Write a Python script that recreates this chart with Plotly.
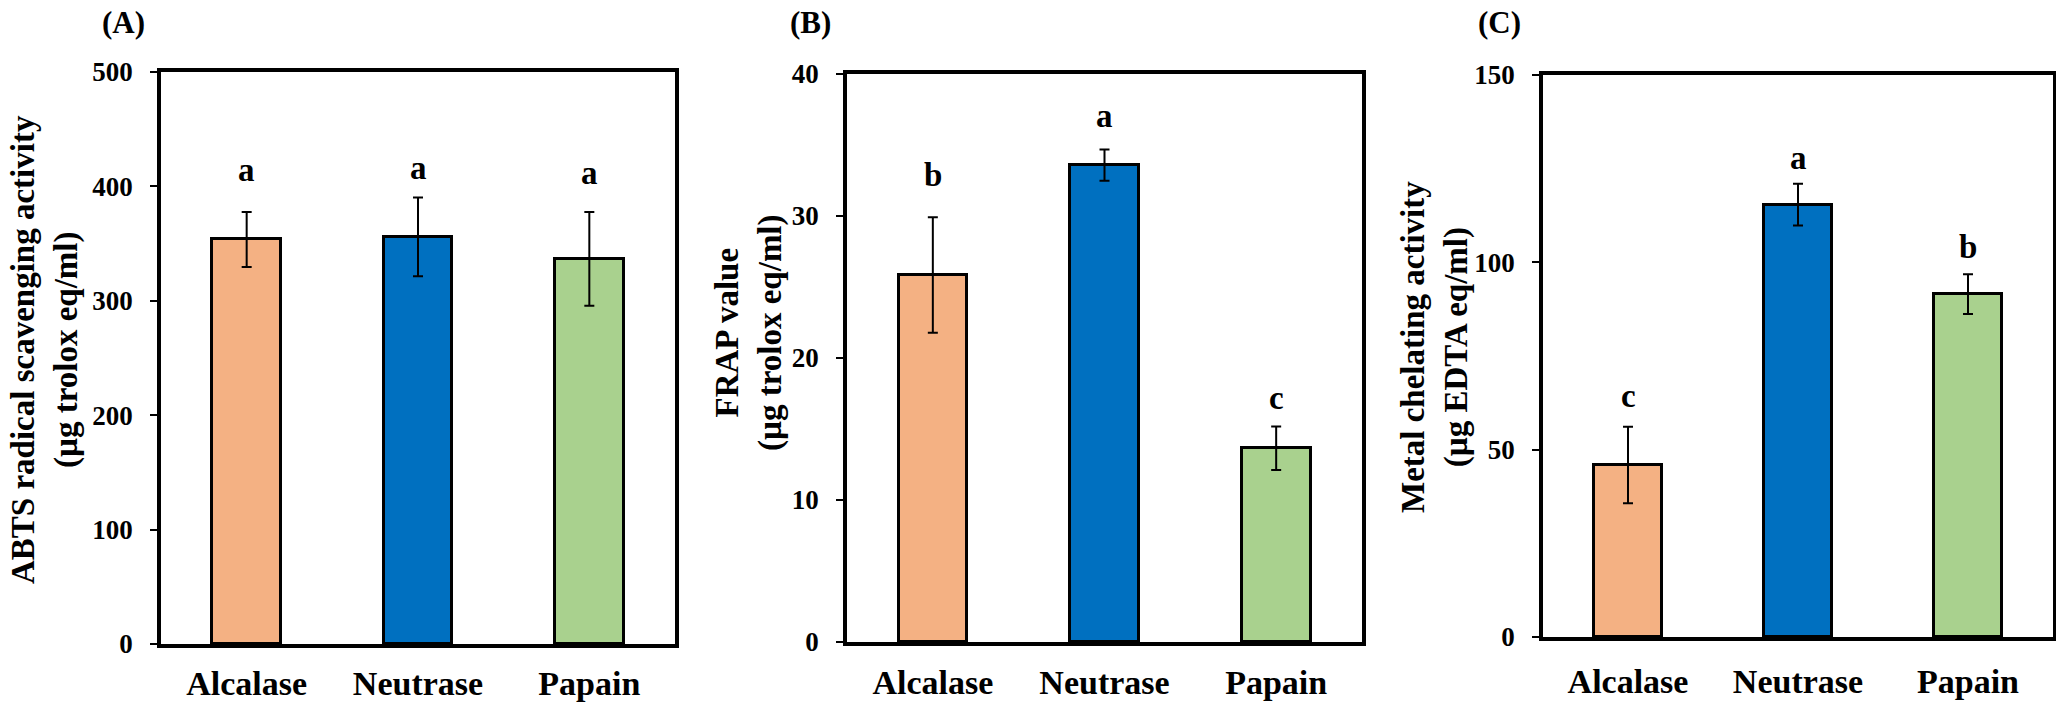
import plotly.graph_objects as go

# ---------------- data ----------------
enzymes = ["Alcalase", "Neutrase", "Papain"]
bar_colors = ["#F4B183", "#0070C0", "#A9D18E"]

abts_mean = [353.6, 355.9, 336.7]
abts_sd = [24.0, 34.5, 41.0]
abts_sig = ["a", "a", "a"]
abts_sig_y = [404.6, 406.7, 402.3]

frap_mean = [25.85, 33.58, 13.64]
frap_sd = [4.07, 1.10, 1.53]
frap_sig = ["b", "a", "c"]
frap_sig_y = [32.1, 36.3, 16.4]

metal_mean = [45.9, 115.4, 91.5]
metal_sd = [10.2, 5.6, 5.3]
metal_sig = ["c", "a", "b"]
metal_sig_y = [61.5, 125.0, 101.1]

panels = [
    dict(label="(A)", title="ABTS radical scavenging activity<br>(µg trolox eq/ml)",
         mean=abts_mean, sd=abts_sd, sig=abts_sig, sig_y=abts_sig_y,
         yr=[0, 500], ticks=[0, 100, 200, 300, 400, 500]),
    dict(label="(B)", title="FRAP value<br>(µg trolox eq/ml)",
         mean=frap_mean, sd=frap_sd, sig=frap_sig, sig_y=frap_sig_y,
         yr=[0, 40], ticks=[0, 10, 20, 30, 40]),
    dict(label="(C)", title="Metal chelating activity<br>(µg EDTA eq/ml)",
         mean=metal_mean, sd=metal_sd, sig=metal_sig, sig_y=metal_sig_y,
         yr=[0, 150], ticks=[0, 50, 100, 150]),
]

# ---------------- layout geometry (pixels) ----------------
W, H = 2056, 703
plot_x = [(161, 675), (847, 1362), (1543, 2053)]
plot_y = [(72, 644), (74, 642), (75, 637)]
ytitle_pos = [(45, 350), (749, 333), (1435, 347)]
plabel_pos = [(123, 23), (810, 23), (1499, 22)]
xlabel_standoff = [6, 7, 11]

FONT = "Liberation Serif"

fig = go.Figure()
annotations = []
layout_axes = {}

for i, p in enumerate(panels):
    n = "" if i == 0 else str(i + 1)
    xa, ya = "x" + n, "y" + n
    fig.add_trace(go.Bar(
        x=enzymes, y=p["mean"], xaxis=xa, yaxis=ya, width=0.4,
        marker=dict(color=bar_colors, line=dict(color="black", width=3)),
        error_y=dict(type="data", array=p["sd"], color="black", thickness=2, width=5),
        hoverinfo="skip",
    ))
    x0, x1 = plot_x[i]
    yt, yb = plot_y[i]
    layout_axes["xaxis" + n] = dict(
        domain=[x0 / W, x1 / W], anchor=ya, type="category", range=[-0.5, 2.5],
        showline=True, linecolor="black", linewidth=3.5, mirror=True,
        ticks="", showgrid=False, zeroline=False,
        ticklabelstandoff=xlabel_standoff[i], automargin=False,
        tickfont=dict(family=FONT, size=34, color="black", weight="bold"),
    )
    layout_axes["yaxis" + n] = dict(
        domain=[1 - yb / H, 1 - yt / H], anchor=xa, range=p["yr"],
        tickvals=p["ticks"], ticks="outside", ticklen=7, tickwidth=2, tickcolor="black",
        showline=True, linecolor="black", linewidth=3.5, mirror=True,
        showgrid=False, zeroline=False, ticklabelstandoff=12, automargin=False,
        tickfont=dict(family=FONT, size=27, color="black", weight="bold"),
    )
    for k in range(3):
        annotations.append(dict(
            x=enzymes[k], y=p["sig_y"][k], xref=xa, yref=ya, text=p["sig"][k],
            showarrow=False, yanchor="middle", yshift=11,
            font=dict(family=FONT, size=33, color="black", weight="bold"),
        ))
    tx, ty = ytitle_pos[i]
    annotations.append(dict(
        x=tx / W, y=1 - ty / H, xref="paper", yref="paper", text=p["title"],
        textangle=-90, showarrow=False, xanchor="center", yanchor="middle",
        font=dict(family=FONT, size=33, color="black", weight="bold"),
    ))
    lx, ly = plabel_pos[i]
    annotations.append(dict(
        x=lx / W, y=1 - ly / H, xref="paper", yref="paper", text=p["label"],
        showarrow=False, xanchor="center", yanchor="middle",
        font=dict(family=FONT, size=31, color="black", weight="bold"),
    ))

fig.update_layout(
    width=W, height=H, margin=dict(l=0, r=0, t=0, b=0),
    paper_bgcolor="white", plot_bgcolor="white", showlegend=False,
    bargap=0, annotations=annotations, **layout_axes,
)

fig.write_html("out.html", config={"displayModeBar": False},
               post_script="document.body.style.margin='0';")
